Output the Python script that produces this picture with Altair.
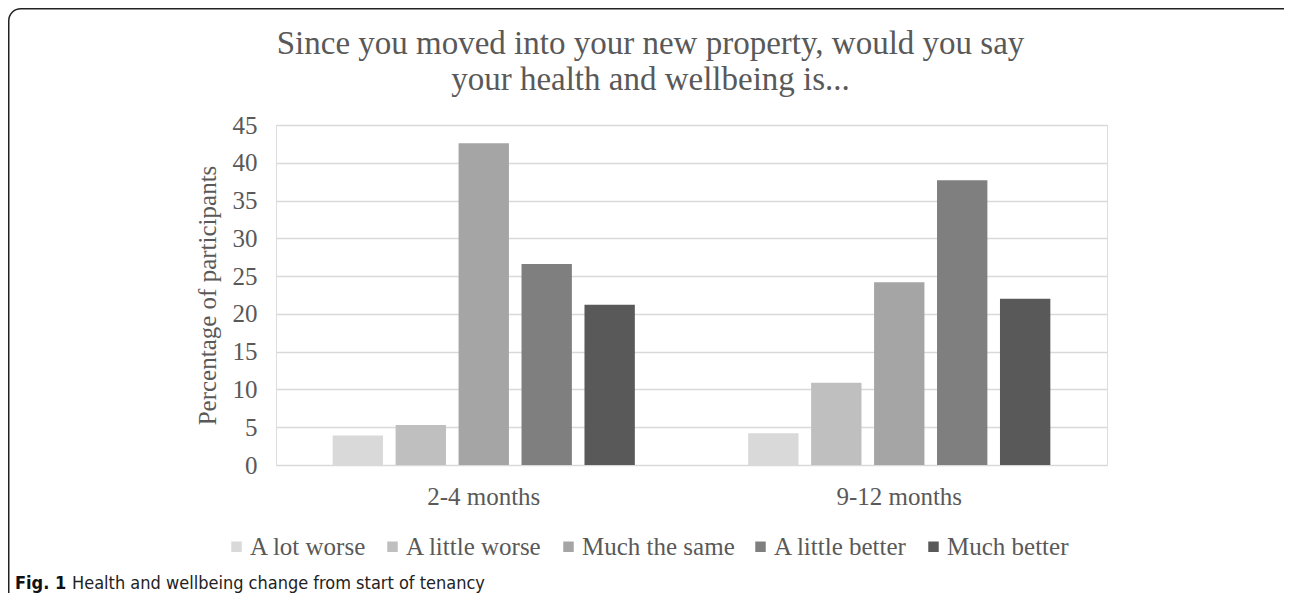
import altair as alt
import pandas as pd

# ---- data ----
groups = ["2-4 months", "9-12 months"]
responses = ["A lot worse", "A little worse", "Much the same", "A little better", "Much better"]
values_2_4 = [3.9, 5.3, 42.6, 26.6, 21.2]
values_9_12 = [4.2, 10.9, 24.2, 37.7, 22.0]
colors = ["#d9d9d9", "#bfbfbf", "#a5a5a5", "#7f7f7f", "#595959"]
y_ticks = [0, 5, 10, 15, 20, 25, 30, 35, 40, 45]

title_lines = ["Since you moved into your new property, would you say",
               "your health and wellbeing is..."]
y_title = "Percentage of participants"
caption_bold = "Fig. 1"
caption_text = "Health and wellbeing change from start of tenancy"

rows = []
for g, vals in zip(groups, [values_2_4, values_9_12]):
    for r, v in zip(responses, vals):
        rows.append({"period": g, "response": r, "value": v})
df = pd.DataFrame(rows)

SERIF = "Liberation Serif, Times New Roman, serif"
NARROW = "DejaVu Sans Condensed, Liberation Sans Narrow, Roboto, sans-serif"
GREY = "#595959"

W, H = 831, 340
PAD_L, PAD_T = 268, 117

bars = alt.Chart(df).mark_bar().encode(
    x=alt.X("period:N", sort=groups,
            scale=alt.Scale(paddingInner=0, paddingOuter=0),
            axis=alt.Axis(title=None, labelAngle=0, domain=False, ticks=False,
                          labelFont=SERIF, labelFontSize=25, labelColor=GREY,
                          labelPadding=19)),
    xOffset=alt.XOffset("response:N", sort=responses,
                        scale=alt.Scale(paddingInner=0.2, paddingOuter=0.9)),
    y=alt.Y("value:Q",
            scale=alt.Scale(domain=[0, 45], nice=False),
            axis=alt.Axis(title=y_title, values=y_ticks, domain=False, ticks=False,
                          labelFont=SERIF, labelFontSize=25, labelColor=GREY,
                          labelPadding=19,
                          titleFont=SERIF, titleFontSize=25, titleColor=GREY,
                          titleFontWeight="normal",
                          titleX=-69, titleY=170, titleBaseline="middle",
                          grid=True, gridColor="#d9d9d9", gridWidth=1.5)),
    color=alt.Color("response:N", sort=responses,
                    scale=alt.Scale(domain=responses, range=colors),
                    legend=alt.Legend(title=None, orient="none", direction="horizontal",
                                      columns=5, legendX=-52, legendY=409,
                                      symbolType="square", symbolSize=110,
                                      symbolStrokeWidth=0, labelOffset=1,
                                      columnPadding=13, padding=0,
                                      labelFont=SERIF, labelFontSize=25,
                                      labelColor=GREY)),
)

one = pd.DataFrame({"k": [0]})

frame = alt.Chart(one).mark_rect(
    fill=None, fillOpacity=0, stroke="#222222", strokeWidth=1.5, cornerRadius=12
).encode(
    x=alt.value(8.75 - 276), x2=alt.value(1310 - 276),
    y=alt.value(8.75 - 125), y2=alt.value(610 - 125),
)

cap1 = alt.Chart(one).mark_text(
    text=caption_bold, align="left", baseline="alphabetic",
    font=NARROW, fontSize=18, fontWeight="bold", color="#111111"
).encode(x=alt.value(15 - 276), y=alt.value(589 - 125))

cap2 = alt.Chart(one).mark_text(
    text=caption_text, align="left", baseline="alphabetic",
    font=NARROW, fontSize=18, color="#222222"
).encode(x=alt.value(72 - 276), y=alt.value(589 - 125))

chart = alt.layer(frame, bars, cap1, cap2).properties(
    width=W, height=H,
    padding={"left": PAD_L, "top": PAD_T, "right": 1276 - PAD_L - W, "bottom": 585 - PAD_T - H},
    autosize=alt.AutoSizeParams(type="none"),
    title=alt.TitleParams(text=title_lines, anchor="middle", dx=-41, offset=-89,
                          font=SERIF, fontSize=33, fontWeight="normal",
                          color=GREY, lineHeight=36),
).configure_view(stroke=None).configure(background="white")

chart.save("out.html", embed_options={"renderer": "svg", "actions": False})
